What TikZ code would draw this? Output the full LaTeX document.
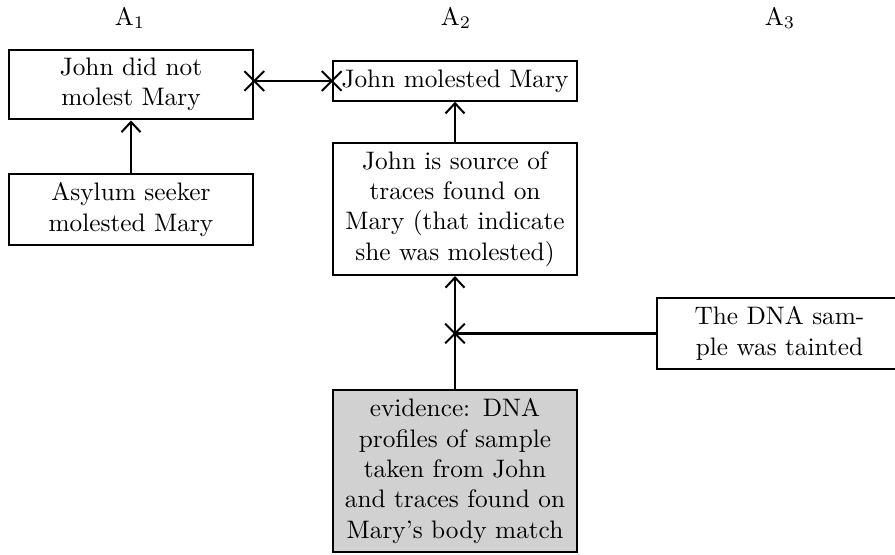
\documentclass[tikz,border=0pt]{standalone}
\usetikzlibrary{arrows.meta,shapes.misc}
\tikzset{
  arg/.style={draw,thick,align=center,text width=90pt,inner sep=3.33pt,font=\normalsize},
  evid/.style={arg,fill=black!18},
  supp/.style={thick,-{Straight Barb[length=4pt,width=7.5pt]}},
  att/.style={thick},
  xmark/.style={cross out,draw,thick,minimum size=7pt,inner sep=0pt},
  lab/.style={inner sep=0pt}
}
\begin{document}
\begin{tikzpicture}[x=0.3953pt,y=-0.3953pt]
\useasboundingbox (0,0) rectangle (895,555);
\node[lab] (a1) at (130,18) {A$_1$};
\node[lab] (a2) at (456,18) {A$_2$};
\node[lab] (a3) at (780,18) {A$_3$};
\node[arg] (n1) at (131,84.5) {John did not\\molest Mary};
\node[arg] (n2) at (455,81) {John molested Mary};
\node[arg] (n3) at (131,209.5) {Asylum seeker\\molested Mary};
\node[arg] (n4) at (455,209) {John is source of\\traces found on\\Mary (that indicate\\she was molested)};
\node[arg] (n5) at (779.5,333.5) {The DNA sam-\\ple was tainted};
\node[evid] (n6) at (455,471) {evidence: DNA\\profiles of sample\\taken from John\\and traces found on\\Mary's body match};
\draw[supp] (n3) -- (n1);
\draw[supp] (n4) -- (n2);
\draw[supp] (n6) -- (n4);
\coordinate (l) at (n2.west -| n1.east);
\draw[att] (l) -- (n2.west);
\node[xmark] (x1) at (l) {};
\node[xmark] (x2) at (n2.west) {};
\coordinate (m) at (n4.south |- n5.west);
\draw[att] (n5.west) -- (m);
\node[xmark] (x3) at (m) {};
\end{tikzpicture}
\end{document}
